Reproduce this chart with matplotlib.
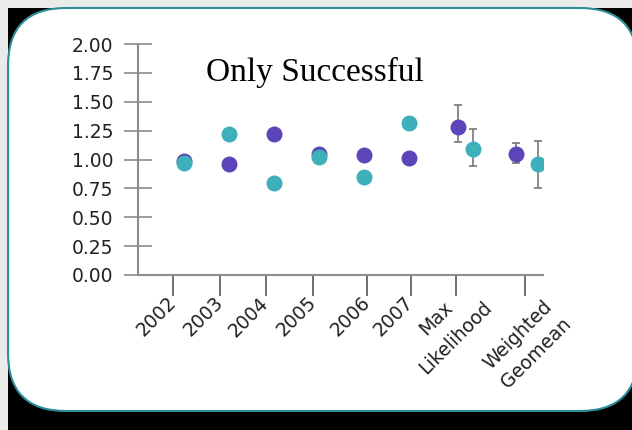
import matplotlib
matplotlib.use('Agg')
from matplotlib import pyplot as plt
from matplotlib.patches import FancyBboxPatch, Rectangle
from matplotlib.transforms import ScaledTranslation

# Data
years = ['2002', '2003', '2004', '2005', '2006', '2007']
purple_years = [0.99, 0.96, 1.22, 1.05, 1.04, 1.01]
teal_years = [0.97, 1.22, 0.80, 1.02, 0.85, 1.32]

summary_labels = ['Max\nLikelihood', 'Weighted\nGeomean']
purple_summary = [1.28, 1.05]
purple_low = [1.15, 0.97]
purple_high = [1.47, 1.14]
teal_summary = [1.09, 0.96]
teal_low = [0.94, 0.75]
teal_high = [1.26, 1.16]

# category positions
year_x = [0, 1, 2, 3, 4, 5]
purple_sum_x = [6.09, 7.38]
teal_sum_x = [6.42, 7.87]
tick_x = [-0.24, 0.8, 1.82, 2.87, 4.07, 5.04, 6.04, 7.58]
# pixel offsets of the two-line label centres from their tick
summary_offsets = [(-10, 53), (2, 69)]

purple = '#5b45b9'
teal = '#3db0bb'
grey = '#8c8c8c'

fig = plt.figure(figsize=(6.32, 4.30), dpi=100)
fig.patch.set_facecolor('black')

# Background slide frame, in pixel units
bg = fig.add_axes([0, 0, 1, 1])
bg.set_xlim(0, 632)
bg.set_ylim(430, 0)
bg.axis('off')
bg.add_patch(Rectangle((0, 0), 632, 8, facecolor='#ebebeb', edgecolor='none'))
bg.add_patch(Rectangle((0, 0), 8, 430, facecolor='#ebebeb', edgecolor='none'))
bg.add_patch(FancyBboxPatch((8, 8), 630, 403,
                            boxstyle='round,pad=0,rounding_size=58',
                            facecolor='white', edgecolor='#2b8e98', lw=1.5))

ax = fig.add_axes([138 / 632, 1 - 275 / 430, (543 - 138) / 632, (275 - 44) / 430])
ax.set_facecolor('none')

# Error bars for summary estimates
ax.errorbar(purple_sum_x, purple_summary,
            yerr=[[p - l for p, l in zip(purple_summary, purple_low)],
                  [h - p for p, h in zip(purple_summary, purple_high)]],
            fmt='none', ecolor='#777777', elinewidth=1.2, capsize=3, capthick=1.2, zorder=2)
ax.errorbar(teal_sum_x, teal_summary,
            yerr=[[p - l for p, l in zip(teal_summary, teal_low)],
                  [h - p for p, h in zip(teal_summary, teal_high)]],
            fmt='none', ecolor='#777777', elinewidth=1.2, capsize=3, capthick=1.2, zorder=2)

ax.plot(year_x, purple_years, 'o', color=purple, ms=11.5, mec='none', zorder=3)
ax.plot(purple_sum_x, purple_summary, 'o', color=purple, ms=11.5, mec='none', zorder=3)
ax.plot(year_x, teal_years, 'o', color=teal, ms=11.5, mec='none', zorder=4)
ax.plot(teal_sum_x, teal_summary, 'o', color=teal, ms=11.5, mec='none', zorder=4)

ax.set_xlim(-1.02, 7.98)
ax.set_ylim(0, 2)
ax.set_yticks([0, 0.25, 0.5, 0.75, 1.0, 1.25, 1.5, 1.75, 2.0])
ax.set_yticklabels(['%.2f' % v for v in ax.get_yticks()])
ax.set_xticks(tick_x)
ax.set_xticklabels(years + [''] * len(summary_labels))

for side in ['top', 'right']:
    ax.spines[side].set_visible(False)
for side in ['left', 'bottom']:
    ax.spines[side].set_color(grey)
    ax.spines[side].set_linewidth(1.5)

ax.tick_params(axis='y', direction='inout', length=20, width=1.2, color=grey,
               labelsize=13.5, pad=8, labelcolor='#222222')
ax.tick_params(axis='x', direction='out', length=15, width=1.2, color='#555555',
               labelsize=13.5, pad=3, labelcolor='#222222')

for lbl in ax.get_xticklabels():
    lbl.set_rotation(45)
    lbl.set_rotation_mode('anchor')
    lbl.set_ha('right')
    lbl.set_va('center')

# two-line category labels under the last two ticks
for x, text, (dx, dy) in zip(tick_x[len(years):], summary_labels, summary_offsets):
    tr = ax.get_xaxis_transform() + ScaledTranslation(dx / 100, -dy / 100, fig.dpi_scale_trans)
    ax.text(x, 0, text, transform=tr, rotation=45, rotation_mode='anchor',
            ha='center', va='center', multialignment='center', linespacing=1.5,
            fontsize=13.5, color='#222222')

fig.text(315 / 632, 1 - 72 / 430, 'Only Successful', family='Liberation Serif',
         fontsize=24, ha='center', va='center', color='black')

plt.savefig('out.png', dpi=100, facecolor=fig.get_facecolor())
